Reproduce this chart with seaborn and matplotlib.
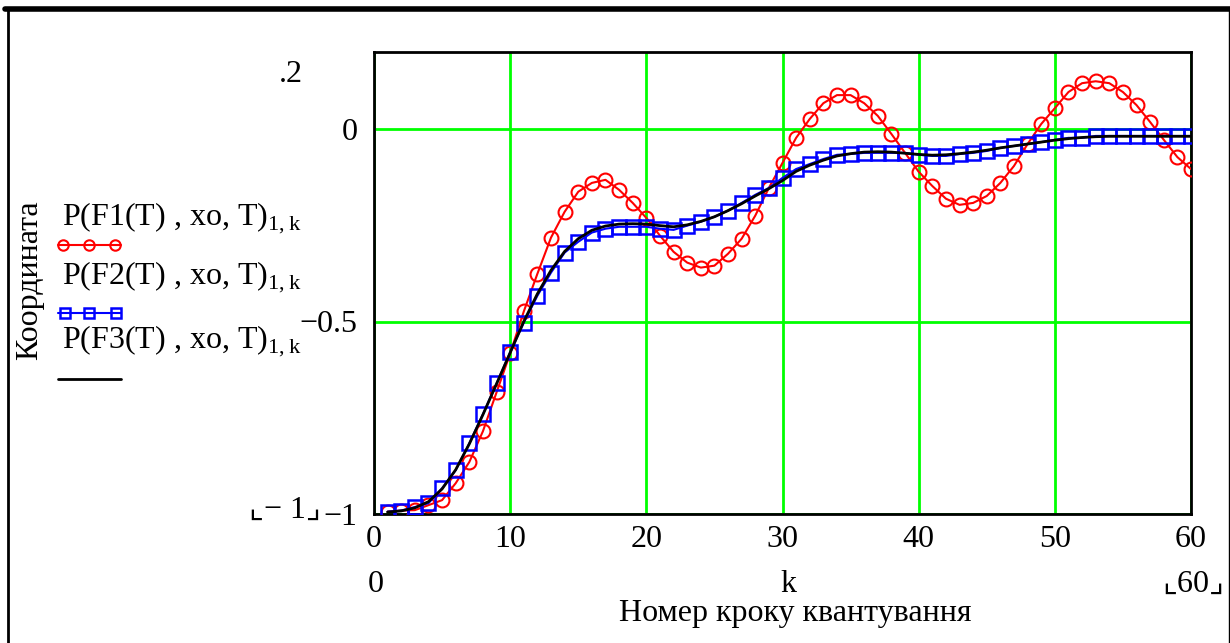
import numpy as np
import pandas as pd
import matplotlib
matplotlib.use("Agg")
import matplotlib.pyplot as plt
from matplotlib.lines import Line2D
import seaborn as sns

# ---- data ----
k = list(range(1, 61))
F1 = [-0.994, -0.991, -0.990, -0.977, -0.964, -0.920, -0.865, -0.785, -0.684, -0.583,
      -0.474, -0.376, -0.282, -0.215, -0.163, -0.140, -0.132, -0.158, -0.192, -0.231,
      -0.277, -0.319, -0.347, -0.360, -0.355, -0.324, -0.285, -0.225, -0.153, -0.088,
      -0.023, 0.026, 0.067, 0.088, 0.088, 0.067, 0.034, -0.013, -0.062, -0.111,
      -0.148, -0.181, -0.197, -0.192, -0.174, -0.140, -0.096, -0.039, 0.013, 0.054,
      0.096, 0.119, 0.124, 0.119, 0.096, 0.062, 0.018, -0.028, -0.073, -0.104]
F2 = [-0.994, -0.991, -0.982, -0.972, -0.933, -0.886, -0.816, -0.741, -0.661, -0.580,
      -0.503, -0.433, -0.373, -0.321, -0.293, -0.269, -0.259, -0.254, -0.254, -0.254,
      -0.259, -0.262, -0.251, -0.241, -0.228, -0.212, -0.192, -0.171, -0.153, -0.127,
      -0.104, -0.091, -0.078, -0.067, -0.065, -0.062, -0.062, -0.062, -0.062, -0.067,
      -0.070, -0.070, -0.065, -0.062, -0.057, -0.049, -0.044, -0.039, -0.034, -0.028,
      -0.023, -0.023, -0.018, -0.018, -0.018, -0.018, -0.018, -0.018, -0.018, -0.018]
F3 = [-0.995, -0.992, -0.984, -0.968, -0.935, -0.885, -0.818, -0.742, -0.662, -0.581,
      -0.500, -0.428, -0.367, -0.318, -0.285, -0.263, -0.252, -0.247, -0.246, -0.247,
      -0.251, -0.254, -0.249, -0.240, -0.228, -0.212, -0.194, -0.174, -0.155, -0.134,
      -0.110, -0.094, -0.081, -0.070, -0.064, -0.060, -0.059, -0.060, -0.063, -0.066,
      -0.068, -0.067, -0.064, -0.060, -0.055, -0.049, -0.044, -0.039, -0.034, -0.029,
      -0.025, -0.022, -0.020, -0.019, -0.019, -0.019, -0.019, -0.019, -0.019, -0.019]

x_ticks = [0, 10, 20, 30, 40, 50, 60]
y_ticks = [-1, -0.5, 0]
y_tick_labels = ["\u22121", "\u22120.5", "0"]
legend_labels = [r"P(F1(T) , xo, T)$_{\mathregular{1,k}}$",
                 r"P(F2(T) , xo, T)$_{\mathregular{1,k}}$",
                 r"P(F3(T) , xo, T)$_{\mathregular{1,k}}$"]
y_label = "Координата"
x_label = "Номер кроку квантування"

# ---- style ----
sns.set_theme(style="white")
plt.rcParams["font.family"] = ["Liberation Serif", "DejaVu Sans"]
plt.rcParams["mathtext.fontset"] = "custom"
plt.rcParams["mathtext.rm"] = "Liberation Serif"
plt.rcParams["axes.unicode_minus"] = False
plt.rcParams["text.color"] = "black"

W, H = 1230, 643
fig = plt.figure(figsize=(W / 100, H / 100), dpi=100)
fig.patch.set_facecolor("white")

def fx(px):
    return px / W

def fy(py):
    return 1 - py / H

ax = fig.add_axes([fx(374), fy(514), fx(1191) - fx(374), fy(52) - fy(514)])
ax.set_facecolor("white")

df = pd.DataFrame({"k": k, "F1": F1, "F2": F2, "F3": F3})

RED, BLUE, GREEN = "#FF0000", "#0000FF", "#00FF00"

sns.lineplot(data=df, x="k", y="F1", ax=ax, color=RED, lw=1.5, marker="o",
             markersize=10, markerfacecolor="none", markeredgecolor=RED,
             markeredgewidth=1.5, zorder=3)
sns.lineplot(data=df, x="k", y="F2", ax=ax, color=BLUE, lw=1.5, marker="s",
             markersize=9.5, markerfacecolor="none", markeredgecolor=BLUE,
             markeredgewidth=1.8, zorder=4)
sns.lineplot(data=df, x="k", y="F3", ax=ax, color="black", lw=2.0, zorder=5)

ax.set_xlim(0, 60)
ax.set_ylim(-1, 0.2)
ax.set_xticks(x_ticks)
ax.set_xticklabels([str(t) for t in x_ticks])
ax.set_yticks(y_ticks)
ax.set_yticklabels(y_tick_labels)
ax.set_xlabel("")
ax.set_ylabel("")
ax.grid(True, color=GREEN, lw=2.0, zorder=1)
ax.set_axisbelow(True)
for s in ax.spines.values():
    s.set_color("black")
    s.set_linewidth(2.0)
    s.set_visible(True)
FS = 23
ax.tick_params(axis="both", length=0, labelsize=FS, colors="black")
ax.tick_params(axis="y", pad=12)
ax.tick_params(axis="x", pad=8)

# axis limit labels (Mathcad style)
fig.text(fx(291), fy(74), ".2", fontsize=FS, ha="center", va="center")
fig.text(fx(285), fy(510), "\u231e\u2212 1\u231f", fontsize=FS, ha="center", va="center",
         family=["Liberation Serif", "DejaVu Sans"])
fig.text(fx(376), fy(584), "0", fontsize=FS, ha="center", va="center")
fig.text(fx(788), fy(584), "k", fontsize=FS, ha="center", va="center")
fig.text(fx(1193), fy(584), "\u231e60\u231f", fontsize=FS, ha="center", va="center",
         family=["Liberation Serif", "DejaVu Sans"])
fig.text(fx(795), fy(613), x_label, fontsize=FS, ha="center", va="center")
fig.text(fx(30), fy(280), y_label, fontsize=FS, ha="center", va="center", rotation=90)

# legend on the left
lx = fig.add_axes([0, 0, 1, 1], facecolor="none")
lx.set_xlim(0, W)
lx.set_ylim(H, 0)
lx.axis("off")
base_y = [225, 284, 348]
sample_y = [245, 313, 379]
for lab, by in zip(legend_labels, base_y):
    lx.text(62, by, lab, fontsize=FS, ha="left", va="baseline")
lx.plot([58, 121], [sample_y[0]] * 2, color=RED, lw=1.5)
lx.plot([63, 89, 115], [sample_y[0]] * 3, ls="none", marker="o", ms=7.5,
        mfc="none", mec=RED, mew=1.5)
lx.plot([58, 121], [sample_y[1]] * 2, color=BLUE, lw=1.5)
lx.plot([65, 89, 116], [sample_y[1]] * 3, ls="none", marker="s", ms=7.5,
        mfc="none", mec=BLUE, mew=1.8)
lx.plot([58, 121], [sample_y[2]] * 2, color="black", lw=2)

# outer frame
fig.add_artist(Line2D([fx(5), fx(1230)], [fy(8.5), fy(8.5)], color="black", lw=4))
fig.add_artist(Line2D([fx(8), fx(8)], [fy(8), fy(643)], color="black", lw=2))
fig.add_artist(Line2D([fx(1228.5), fx(1228.5)], [fy(8), fy(643)], color="black", lw=1))

fig.savefig("out.png", dpi=100)
